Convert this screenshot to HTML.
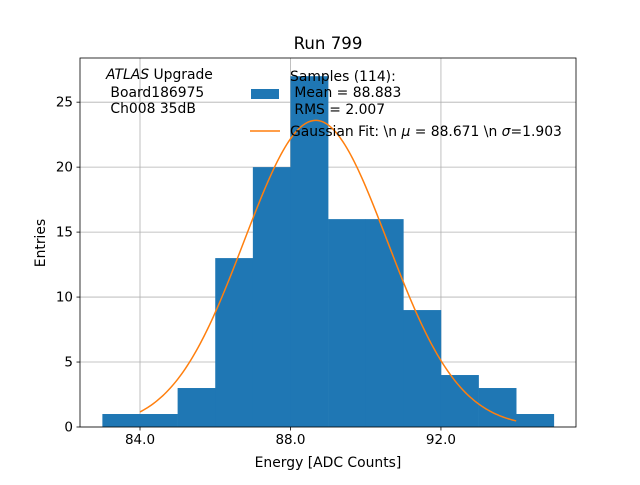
<!DOCTYPE html>
<html><head><meta charset="utf-8"><style>
body{margin:0;background:#fff}
text{font-family:"DejaVu Sans","Liberation Sans",sans-serif;fill:#000}
</style></head><body>
<svg id="chart" width="640" height="480" xmlns="http://www.w3.org/2000/svg">
<rect width="640" height="480" fill="#fff"/>
<g id="grid"></g>
<g id="bars"></g>
<path id="fit" fill="none" stroke="#ff7f0e" stroke-width="1.5"/>
<rect x="80" y="58" width="496" height="369" fill="none" stroke="#000" stroke-width="0.8"/>
<g id="ticks"></g>
<text x="328" y="49" font-size="16.6" text-anchor="middle">Run 799</text>
<text x="328" y="467" font-size="13.9" text-anchor="middle">Energy [ADC Counts]</text>
<text transform="translate(45,243) rotate(-90)" font-size="13.9" text-anchor="middle">Entries</text>
<g font-size="13.9">
<text x="106" y="79"><tspan font-style="italic">ATLAS</tspan> Upgrade</text>
<text x="106" y="97" xml:space="preserve"> Board186975</text>
<text x="106" y="113" xml:space="preserve"> Ch008 35dB</text>
</g>
<g font-size="13.9">
<rect x="251" y="89" width="28" height="10" fill="#1f77b4"/>
<text x="290" y="81">Samples (114):</text>
<text x="290" y="97" xml:space="preserve"> Mean = 88.883</text>
<text x="290" y="114" xml:space="preserve"> RMS = 2.007</text>
<line x1="250" y1="131" x2="280" y2="131" stroke="#ff7f0e" stroke-width="1.5"/>
<text x="290" y="136">Gaussian Fit: \n <tspan font-style="italic">μ</tspan> = 88.671 \n <tspan font-style="italic">σ</tspan>=1.903</text>
</g>
</svg>
<script>
const binEdgesStart = 83;
const binCounts = [1,1,3,13,20,27,16,16,9,4,3,1];
const xTicks = [84,88,92];
const xTickLabels = ["84.0","88.0","92.0"];
const yTicks = [0,5,10,15,20,25];
const fitMu = 88.671, fitSigma = 1.903, fitAmp = 23.6;
const fitRange = [84, 94];
const X0=82.405, X1=95.59, Y0=0, Y1=28.4;
const L=80,R=576,T=58,B=427;
const sx=v=>L+(v-X0)/(X1-X0)*(R-L);
const sy=v=>B-(v-Y0)/(Y1-Y0)*(B-T);
const NS="http://www.w3.org/2000/svg";
function mk(tag,attrs,parent){const e=document.createElementNS(NS,tag);for(const k in attrs)e.setAttribute(k,attrs[k]);parent.appendChild(e);return e;}
const grid=document.getElementById('grid'),bars=document.getElementById('bars'),ticks=document.getElementById('ticks');
xTicks.forEach((t,i)=>{
 const g=mk('line',{x1:sx(t),x2:sx(t),y1:T,y2:B,stroke:'#b0b0b0','stroke-width':0.8},grid);
 
 
 const tk=mk('line',{x1:sx(t),x2:sx(t),y1:B,y2:B+3.5,stroke:'#000','stroke-width':0.8},ticks);
 
 
 const tx=mk('text',{x:sx(t),y:B+17,'font-size':13.5,'text-anchor':'middle'},ticks);
 tx.textContent=xTickLabels[i];
 
 
});
yTicks.forEach(t=>{
 const g=mk('line',{x1:L,x2:R,y1:sy(t),y2:sy(t),stroke:'#b0b0b0','stroke-width':0.8},grid);
 
 
 const tk=mk('line',{x1:L-3.5,x2:L,y1:sy(t),y2:sy(t),stroke:'#000','stroke-width':0.8},ticks);
 
 
 const tx=mk('text',{x:L-7,y:sy(t)+4.5,'font-size':13.5,'text-anchor':'end'},ticks);
 tx.textContent=String(t);
 
 
});
binCounts.forEach((c,i)=>{
 const x0=sx(binEdgesStart+i),x1=sx(binEdgesStart+i+1);
 const b=mk('rect',{x:x0,y:sy(c),width:x1-x0+0.3,height:B-sy(c),fill:'#1f77b4'},bars);
 
 
});
let d='';
for(let i=0;i<=200;i++){const v=fitRange[0]+(fitRange[1]-fitRange[0])*i/200;const y=fitAmp*Math.exp(-((v-fitMu)**2)/(2*fitSigma*fitSigma));d+=(i?'L':'M')+sx(v).toFixed(2)+','+sy(y).toFixed(2);}
document.getElementById('fit').setAttribute('d',d);
</script>
</body></html>
